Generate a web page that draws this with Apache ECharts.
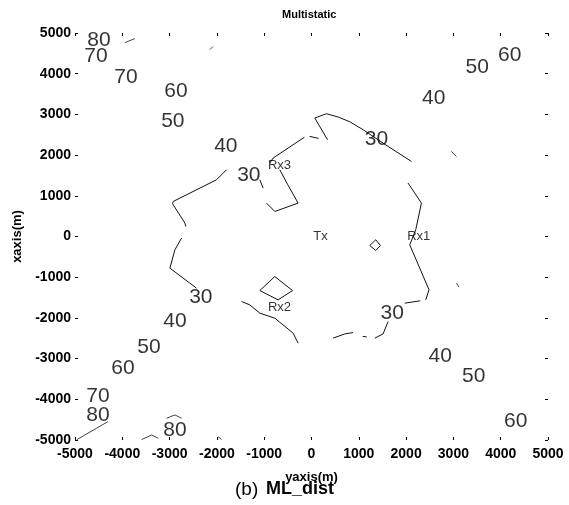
<!DOCTYPE html>
<html>
<head>
<meta charset="utf-8">
<script src="https://cdn.jsdelivr.net/npm/echarts@6/dist/echarts.min.js"></script>
<style>
html,body{margin:0;padding:0;background:#fff;}
#chart{width:569px;height:505px;}
</style>
</head>
<body>
<div id="chart"></div>
<script>
// Axis ticks (metres)
const xTicks = [-5000,-4000,-3000,-2000,-1000,0,1000,2000,3000,4000,5000];
const yTicks = [-5000,-4000,-3000,-2000,-1000,0,1000,2000,3000,4000,5000];

// Visible pieces of the 30 contour  [yaxis, xaxis]
const c30LeftUpper = [[-1796,1640],[-2007,1394],[-2924,861],[-2937,804],[-2677,330],[-2656,246]];
const c30LeftLower = [[-2747,-39],[-2888,-327],[-2994,-777],[-2572,-1146],[-2430,-1269]];
const c30TopLeft   = [[-881,1805],[-811,1928],[-150,2440]];
const c30TopDash   = [[-40,2460],[150,2410]];
const c30TopRight  = [[338,2378],[70,2911],[317,3017],[562,2936],[809,2820],[1090,2624],[1619,2213],[2113,1844]];
const c30Right     = [[2041,1313],[2324,821],[2204,165],[2077,-204],[2485,-1311],[2415,-1557]];
const c30RightDash = [[2300,-1580],[1971,-1638]];
const c30BottomR1  = [[1619,-2090],[1513,-2393],[1338,-2498]];
const c30BottomR2  = [[1168,-2466],[1084,-2454]];
const c30BottomR3  = [[879,-2361],[704,-2393],[456,-2498]];
const c30BottomL   = [[-1479,-1598],[-1304,-1680],[-1092,-1884],[-775,-2007],[-389,-2375],[-283,-2621]];
const rx3Loop      = [[-670,1640],[-501,1271],[-283,821],[-775,615],[-951,821]];
const rx3Tick      = [[-1092,1394],[-1023,1190]];
const rx2Loop      = [[-776,-984],[-401,-1328],[-706,-1557],[-1092,-1328],[-776,-984]];
const txLoop       = [[1359,-81],[1458,-221],[1359,-344],[1232,-221],[1359,-81]];

// Faint fragments of the outer contours
const faint1 = [[-3945,4763],[-3734,4862]];
const faint2 = [[-2149,4591],[-2086,4665]];
const faint3 = [[-4960,-4990],[-4304,-4549]];
const faint4 = [[-3592,-4990],[-3381,-4876],[-3241,-4957]];
const faint5 = [[-3064,-4466],[-2888,-4384],[-2747,-4466]];
const faint6 = [[-1974,-4918],[-1902,-4990]];
const faint7 = [[2958,2090],[3064,1967]];
const faint8 = [[3064,-1146],[3119,-1244]];

// Contour level labels [yaxis, xaxis, level]
const levelLabels = [
  [-4494,4812,'80'],[-4558,4431,'70'],[-3924,3902,'70'],[-2867,3558,'60'],
  [-2931,2845,'50'],[-1811,2218,'40'],[-1325,1517,'30'],
  [4190,4443,'60'],[3503,4148,'50'],[2584,3386,'40'],[1373,2402,'30'],
  [-2339,-1483,'30'],[-2888,-2073,'40'],[-3438,-2725,'50'],[-3987,-3229,'60'],
  [-4515,-3917,'70'],[-4515,-4384,'80'],[-2888,-4753,'80'],
  [1707,-1876,'30'],[2722,-2946,'40'],[3429,-3425,'50'],[4317,-4532,'60']
];
// Transmitter / receiver labels
const stationLabels = [[190,0,'Tx'],[2267,0,'Rx1'],[-676,-1741,'Rx2'],[-676,1739,'Rx3']];

const solidSegs = [c30LeftUpper,c30LeftLower,c30TopLeft,c30TopDash,c30TopRight,c30Right,c30RightDash,
  c30BottomR1,c30BottomR2,c30BottomR3,c30BottomL,rx3Loop,rx3Tick,rx2Loop,txLoop];
const faintSegs = [faint1,faint2,faint3,faint4,faint5,faint6,faint7,faint8];

const FONT = '"Liberation Sans", Arial, sans-serif';

const series = [];
solidSegs.forEach(function(d){
  series.push({type:'line',data:d,showSymbol:false,symbol:'none',silent:true,animation:false,
    lineStyle:{color:'#111',width:1},z:2});
});
faintSegs.forEach(function(d){
  series.push({type:'line',data:d,showSymbol:false,symbol:'none',silent:true,animation:false,
    lineStyle:{color:'#444',width:1},z:2});
});
series.push({type:'scatter',data:levelLabels,symbolSize:0,silent:true,animation:false,z:5,
  label:{show:true,position:'inside',formatter:function(p){return p.value[2];},
    color:'#000',fontSize:21,fontFamily:FONT}});
series.push({type:'scatter',data:stationLabels,symbolSize:0,silent:true,animation:false,z:5,
  label:{show:true,position:'inside',formatter:function(p){return p.value[2];},
    color:'#000',fontSize:13,fontFamily:FONT}});

const axisCommon = {
  type:'value', interval:1000, splitLine:{show:false},
  axisLine:{show:false,onZero:false},
  axisTick:{show:true,inside:true,length:3,lineStyle:{color:'#000',width:1}}
};

const chart = echarts.init(document.getElementById('chart'),null,{renderer:'canvas'});
chart.setOption({
  animation:false,
  backgroundColor:'#fff',
  grid:{left:75,right:21,top:33,bottom:65},
  xAxis:[
    Object.assign({},axisCommon,{position:'bottom',min:xTicks[0],max:xTicks[xTicks.length-1],
      name:'yaxis(m)',nameLocation:'middle',nameGap:31,
      nameTextStyle:{fontSize:13,fontWeight:'bold',fontFamily:FONT,color:'#000'},
      axisLabel:{margin:7,fontSize:14,fontWeight:'bold',fontFamily:FONT,color:'#000',
        formatter:function(v){return String(v);}}}),
    Object.assign({},axisCommon,{position:'top',min:xTicks[0],max:xTicks[xTicks.length-1],
      axisLabel:{show:false}})
  ],
  yAxis:[
    Object.assign({},axisCommon,{position:'left',min:yTicks[0],max:yTicks[yTicks.length-1],
      name:'xaxis(m)',nameLocation:'middle',nameGap:48,
      nameTextStyle:{fontSize:13,fontWeight:'bold',fontFamily:FONT,color:'#000'},
      axisLabel:{margin:4,fontSize:14,fontWeight:'bold',fontFamily:FONT,color:'#000',
        formatter:function(v){return String(v);}}}),
    Object.assign({},axisCommon,{position:'right',min:yTicks[0],max:yTicks[yTicks.length-1],
      axisLabel:{show:false}})
  ],
  graphic:[
    {type:'text',left:282,top:9,style:{text:'Multistatic',font:'bold 11px '+FONT,fill:'#000'}},
    {type:'text',left:235,top:480,style:{text:'(b)',font:'19px '+FONT,fill:'#000'}},
    {type:'text',left:266,top:480,style:{text:'ML_dist',font:'bold 18px '+FONT,fill:'#000'}}
  ],
  series:series
});
</script>
</body>
</html>
